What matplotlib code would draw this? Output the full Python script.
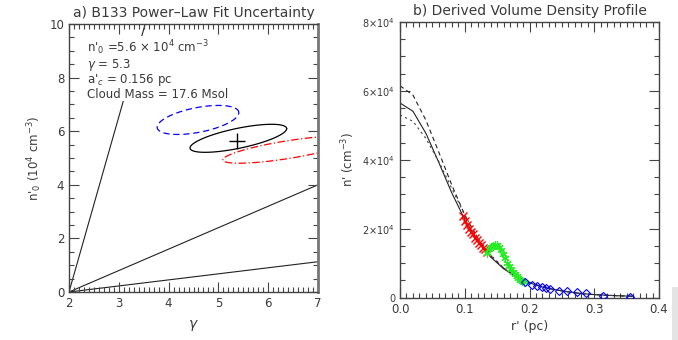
import numpy as np
import matplotlib
matplotlib.use("Agg")
import matplotlib.pyplot as plt
from matplotlib.ticker import MultipleLocator, FixedLocator, FixedFormatter
from matplotlib.patches import Rectangle

# ---------------- data: panel a ----------------
# straight constraint lines from (gamma, n0) start to end
line_x0 = [2.0, 2.0, 2.0]
line_y0 = [0.0, 0.0, 0.0]
line_x1 = [3.53, 7.0, 7.0]
line_y1 = [10.0, 4.0, 1.13]

# uncertainty ellipses: centre x, centre y, x half-width, y minor, y shear
ell_cx = [5.40, 4.59, 6.39]
ell_cy = [5.735, 6.42, 5.31]
ell_a = [0.97, 0.82, 1.30]
ell_b = [0.38, 0.47, 0.335]
ell_c = [0.36, 0.27, 0.378]
ell_color = ["black", "blue", "red"]
ell_style = ["-", (0, (5, 3)), (0, (6, 2, 1, 2))]

best_gamma = 5.37
best_n0 = 5.65

# ---------------- data: panel b ----------------
r_model = [0.00, 0.02, 0.04, 0.06, 0.08, 0.10, 0.12, 0.14, 0.16, 0.18,
           0.20, 0.22, 0.24, 0.26, 0.28, 0.30, 0.32, 0.34, 0.36]
n_best = [5.65, 5.41, 4.77, 3.92, 3.04, 2.27, 1.65, 1.18, 0.84, 0.60,
          0.43, 0.31, 0.23, 0.17, 0.12, 0.09, 0.07, 0.055, 0.043]
n_upper = [6.15, 5.88, 5.15, 4.22, 3.27, 2.40, 1.72, 1.22, 0.86, 0.61,
           0.44, 0.32, 0.23, 0.17, 0.12, 0.09, 0.07, 0.055, 0.043]
n_lower = [5.30, 5.12, 4.62, 3.95, 3.17, 2.40, 1.74, 1.24, 0.87, 0.62,
           0.44, 0.32, 0.23, 0.17, 0.12, 0.09, 0.07, 0.055, 0.043]

r_red = [0.098, 0.101, 0.104, 0.107, 0.110, 0.113, 0.116, 0.119, 0.122,
         0.125, 0.128, 0.131, 0.134]
n_red = [2.38, 2.22, 2.12, 2.00, 1.90, 1.86, 1.74, 1.66, 1.60, 1.52,
         1.45, 1.40, 1.33]

r_green = [0.135, 0.138, 0.141, 0.144, 0.147, 0.150, 0.153, 0.156, 0.159,
           0.162, 0.165, 0.168, 0.171, 0.174, 0.177, 0.180, 0.183, 0.186,
           0.189, 0.192]
n_green = [1.30, 1.40, 1.47, 1.51, 1.53, 1.52, 1.46, 1.37, 1.26, 1.14,
           1.02, 0.92, 0.83, 0.75, 0.68, 0.62, 0.57, 0.52, 0.48, 0.45]

r_blue = [0.193, 0.204, 0.211, 0.219, 0.226, 0.232, 0.245, 0.258, 0.274,
          0.288, 0.314, 0.355]
n_blue = [0.45, 0.37, 0.35, 0.30, 0.27, 0.25, 0.195, 0.18, 0.16, 0.145,
          0.05, 0.03]

ytick_vals_b = [0, 2, 4, 6, 8]
ytick_labels_b = ["0", r"$2{\times}10^4$", r"$4{\times}10^4$",
                  r"$6{\times}10^4$", r"$8{\times}10^4$"]

# ---------------- figure ----------------
plt.rcParams["font.family"] = ["DejaVu Sans"]
plt.rcParams["mathtext.fontset"] = "dejavusans"
txtc = "#3a3a3a"
spc = "#444444"

fig = plt.figure(figsize=(6.78, 3.40), dpi=100)

def style_axes(ax, xmaj, xmin, ymaj, ymin):
    ax.xaxis.set_major_locator(MultipleLocator(xmaj))
    ax.xaxis.set_minor_locator(MultipleLocator(xmin))
    ax.yaxis.set_major_locator(MultipleLocator(ymaj))
    ax.yaxis.set_minor_locator(MultipleLocator(ymin))
    ax.tick_params(which="both", direction="in", top=True, right=True,
                   colors=spc, labelcolor=txtc, labelsize=8.5, width=0.8)
    ax.tick_params(which="major", length=7)
    ax.tick_params(which="minor", length=3.5)
    for s in ax.spines.values():
        s.set_color(spc)
        s.set_linewidth(1.0)

# ---- panel a ----
ax1 = fig.add_axes([69/678, 1-292/340, (318-69)/678, (292-24)/340])
ax1.set_xlim(2, 7)
ax1.set_ylim(0, 10)
style_axes(ax1, 1, 0.1, 2, 0.5)
ax1.spines["right"].set_linewidth(2.0)
ax1.spines["right"].set_color("#777777")

for x0, y0, x1, y1 in zip(line_x0, line_y0, line_x1, line_y1):
    ax1.plot([x0, x1], [y0, y1], color="#222222", lw=0.8, zorder=1)

t = np.linspace(0, 2*np.pi, 300)
for cx, cy, a, b, c, col, ls in zip(ell_cx, ell_cy, ell_a, ell_b, ell_c,
                                    ell_color, ell_style):
    ax1.plot(cx + a*np.cos(t), cy + c*np.cos(t) + b*np.sin(t),
             color=col, lw=0.9, linestyle=ls, zorder=2)
ax1.plot([best_gamma], [best_n0], marker="+", ms=12, mew=1.0,
         color="black", zorder=3)

ax1.text(2.37, 9.45,
         "n$'_0$ =5.6 $\\times$ 10$^4$ cm$^{-3}$\n$\\gamma$ = 5.3\n"
         "a$'_c$ = 0.156 pc\nCloud Mass = 17.6 Msol",
         fontsize=8.5, color=txtc, va="top", ha="left", linespacing=0.95,
         bbox=dict(facecolor="white", edgecolor="none", pad=0.3), zorder=4)

ax1.set_title("a) B133 Power\u2013Law Fit Uncertainty", fontsize=10,
              color=txtc, pad=5)
ax1.set_xlabel(r"$\gamma$", fontsize=10, color=txtc, labelpad=6)
ax1.set_ylabel("n$'_0$ (10$^4$ cm$^{-3}$)", fontsize=8.5, color=txtc,
               labelpad=4)

# ---- panel b ----
ax2 = fig.add_axes([400/678, 1-297.7/340, (659-400)/678, (297.7-22)/340])
ax2.set_xlim(0, 0.4)
ax2.set_ylim(0, 8)
style_axes(ax2, 0.1, 0.01, 2, 0.5)
ax2.yaxis.set_major_locator(FixedLocator(ytick_vals_b))
ax2.yaxis.set_major_formatter(FixedFormatter(ytick_labels_b))
ax2.xaxis.set_major_formatter(plt.FuncFormatter(lambda v, p: f"{v:.1f}"))
ax2.tick_params(axis="y", labelsize=7)

ax2.plot(r_model, n_best, color="#222222", lw=0.8, zorder=2)
ax2.plot(r_model, n_upper, color="#222222", lw=0.8,
         linestyle=(0, (4, 3)), zorder=2)
ax2.plot(r_model, n_lower, color="#444444", lw=0.8,
         linestyle=(0, (2, 3)), zorder=2)

ax2.plot(r_red, n_red, linestyle="none", marker="x", ms=6, mew=1.0,
         color="red", zorder=3)
ax2.plot(r_green, n_green, linestyle="none", marker=(6, 2, 0), ms=6,
         mew=0.8, color="#22ee22", zorder=3)
ax2.plot(r_blue, n_blue, linestyle="none", marker="D", ms=4.5, mew=0.8,
         mfc="none", mec="blue", zorder=3)

ax2.set_title("b) Derived Volume Density Profile", fontsize=10,
              color=txtc, pad=5)
ax2.set_xlabel("r' (pc)", fontsize=9, color=txtc, labelpad=3)
ax2.set_ylabel("n' (cm$^{-3}$)", fontsize=8.5, color=txtc, labelpad=4)

# light grey corner artefact at lower right
fig.patches.append(Rectangle((672/678, 0), 6/678, 53/340,
                             transform=fig.transFigure,
                             facecolor="#e4e4e4", edgecolor="none"))

fig.savefig("out.png", dpi=100, facecolor="white")
